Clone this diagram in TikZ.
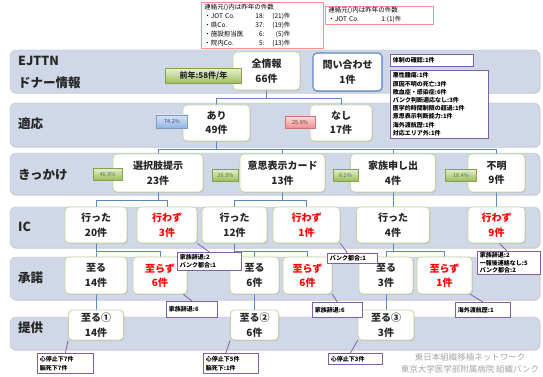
\documentclass[tikz,border=0pt]{standalone}
\usepackage{fontspec}
\setmainfont{Noto Sans CJK JP}
\usetikzlibrary{shadows,calc}
\pgfdeclarelayer{bg}
\pgfsetlayers{bg,main}
\definecolor{bandc}{HTML}{D0D8E8}
\definecolor{nodeb}{HTML}{C3D69B}
\definecolor{connc}{HTML}{5B87C5}
\definecolor{annoc}{HTML}{7F60A8}
\definecolor{redt}{HTML}{FF0000}
\definecolor{txt}{HTML}{262626}
\definecolor{redb}{HTML}{FF8F8F}
\definecolor{gtop}{HTML}{E6EFD2}
\definecolor{gbot}{HTML}{9CBD5A}
\definecolor{btop}{HTML}{D6E4F6}
\definecolor{bbot}{HTML}{92B5E4}
\definecolor{rtop}{HTML}{FBDCDC}
\definecolor{rbot}{HTML}{EE8A8A}
\definecolor{credc}{HTML}{A6A6A6}
\tikzset{
  band/.style={fill=bandc, draw=bandc!88!black, line width=0.3pt, rounded corners=6pt,
    drop shadow={shadow xshift=0.6pt, shadow yshift=-0.9pt, opacity=0.25}},
  blabel/.style={anchor=west, text=txt, font=\fontsize{12.5}{14}\selectfont\bfseries, inner sep=0pt},
  nbox/.style={draw=nodeb, fill=white, line width=0.8pt, rounded corners=4pt, align=center,
    inner sep=0pt, text=txt, font=\fontsize{10}{14.5}\selectfont\bfseries,
    drop shadow={shadow xshift=0.8pt, shadow yshift=-0.9pt, opacity=0.3}},
  redn/.style={nbox, text=redt},
  qbox/.style={nbox, draw=connc, line width=1.1pt},
  conn/.style={draw=connc, line width=0.5pt},
  anno/.style={draw=annoc, fill=white, line width=0.8pt, align=left, anchor=north west,
    inner xsep=2.5pt, inner ysep=0.5pt, text=black, font=\fontsize{6}{8.2}\selectfont\bfseries},
  leader/.style={draw=annoc, line width=0.8pt},
  pctG/.style={top color=gtop, bottom color=gbot, draw=gbot!85!black, line width=0.3pt,
    inner sep=0pt, text=black!60!green!40!gray, font=\fontsize{5.5}{6}\selectfont},
  pctB/.style={top color=btop, bottom color=bbot, draw=bbot!85!black, line width=0.3pt,
    inner sep=0pt, text=black!60!blue!50!gray, font=\fontsize{5.5}{6}\selectfont},
  pctR/.style={top color=rtop, bottom color=rbot, draw=rbot!85!black, line width=0.3pt,
    inner sep=0pt, text=black!60!red!60!gray, font=\fontsize{5.5}{6}\selectfont},
  redbox/.style={draw=redb, fill=white, line width=0.9pt, align=left, anchor=north west,
    inner xsep=3pt, inner ysep=1.5pt, text=black, font=\fontsize{6.5}{9}\selectfont},
  credit/.style={text=credc, font=\fontsize{8.5}{10}\selectfont, inner sep=0pt}
}
\begin{document}
\begin{tikzpicture}[x=1pt, y=-1pt]
\useasboundingbox (0,0) rectangle (543,377);

% main nodes
\node[nbox, minimum width=67pt, minimum height=38pt] (zen) at (266.5,71) {全情報\\66件};
\node[qbox, minimum width=69pt, minimum height=38pt] (toi) at (347.5,72) {問い合わせ\\1件};

\node[nbox, minimum width=67pt, minimum height=36pt] (ari) at (216.5,123) {あり\\49件};
\node[nbox, minimum width=62pt, minimum height=36pt] (nashi) at (341,123) {なし\\17件};

\node[nbox, minimum width=90pt, minimum height=38pt] (sen) at (158,173) {選択肢提示\\23件};
\node[nbox, minimum width=85pt, minimum height=38pt] (ishi) at (282.5,173) {意思表示カード\\13件};
\node[nbox, minimum width=85pt, minimum height=38pt] (kaz) at (393,173) {家族申し出\\4件};
\node[nbox, minimum width=57pt, minimum height=38pt] (fum) at (496.5,173) {不明\\9件};

\node[nbox, minimum width=62pt, minimum height=36pt] (ikA) at (96,225) {行った\\20件};
\node[redn, minimum width=60pt, minimum height=36pt] (ikB) at (167,225) {行わず\\3件};
\node[nbox, minimum width=65pt, minimum height=36pt] (ikC) at (234.5,225) {行った\\12件};
\node[redn, minimum width=67pt, minimum height=36pt] (ikD) at (306.5,225) {行わず\\1件};
\node[nbox, minimum width=73pt, minimum height=36pt] (ikE) at (393,225) {行った\\4件};
\node[redn, minimum width=57pt, minimum height=36pt] (ikF) at (496.5,225) {行わず\\9件};

\node[nbox, minimum width=62pt, minimum height=37pt] (shA) at (96,275.5) {至る\\14件};
\node[redn, minimum width=54pt, minimum height=37pt] (shB) at (160,275.5) {至らず\\6件};
\node[nbox, minimum width=49pt, minimum height=37pt] (shC) at (254.5,275.5) {至る\\6件};
\node[redn, minimum width=49pt, minimum height=37pt] (shD) at (307.5,275.5) {至らず\\6件};
\node[nbox, minimum width=54pt, minimum height=37pt] (shE) at (386,275.5) {至る\\3件};
\node[redn, minimum width=55pt, minimum height=37pt] (shF) at (444.5,275.5) {至らず\\1件};

\node[nbox, minimum width=55pt, minimum height=30pt] (tk1) at (96,325) {至る①\\14件};
\node[nbox, minimum width=48pt, minimum height=30pt] (tk2) at (254.5,325) {至る②\\6件};
\node[nbox, minimum width=56pt, minimum height=30pt] (tk3) at (386,325) {至る③\\3件};

\begin{pgfonlayer}{bg}
\fill[white] (0,0) rectangle (543,377);
% bands
\path[band] (10,50) rectangle (540,93);
\path[band] (10,103) rectangle (540,147);
\path[band] (10,153) rectangle (540,195);
\path[band] (10,207) rectangle (540,248);
\path[band] (10,257) rectangle (540,300);
\path[band] (10,317) rectangle (540,350);
% connectors
\draw[conn] (zen.south) -- ++(0,7.5) -| (ari.north);
\draw[conn] (zen.south) -- ++(0,7.5) -| (nashi.north);
\draw[conn] (ari.south) -- ++(0,8) -| (sen.north);
\draw[conn] (ari.south) -- ++(0,8) -| (ishi.north);
\draw[conn] (ari.south) -- ++(0,8) -| (kaz.north);
\draw[conn] (ari.south) -- ++(0,8) -| (fum.north);
\draw[conn] (sen.south) -- ++(0,7.5) -| (ikA.north);
\draw[conn] (sen.south) -- ++(0,7.5) -| (ikB.north);
\draw[conn] (ishi.south) -- ++(0,7.5) -| (ikC.north);
\draw[conn] (ishi.south) -- ++(0,7.5) -| (ikD.north);
\draw[conn] (kaz.south) -- (ikE.north);
\draw[conn] (fum.south) -- (ikF.north);
\draw[conn] (ikA.south) -- ++(0,7.5) -| (shA.north);
\draw[conn] (ikA.south) -- ++(0,7.5) -| (shB.north);
\draw[conn] (ikC.south) -- ++(0,7.5) -| (shC.north);
\draw[conn] (ikC.south) -- ++(0,7.5) -| (shD.north);
\draw[conn] (ikE.south) -- ++(0,7.5) -| (shE.north);
\draw[conn] (ikE.south) -- ++(0,7.5) -| (shF.north);
\draw[conn] (shA.south) -- (tk1.north);
\draw[conn] (shC.south) -- (tk2.north);
\draw[conn] (shE.south) -- (tk3.north);
\end{pgfonlayer}

% band labels
\node[blabel] (lEJ) at (18,61) {EJTTN};
\node[blabel] (lDN) at (18,83) {ドナー情報};
\node[blabel] (lTK) at (18,124) {適応};
\node[blabel] (lKK) at (18,175) {きっかけ};
\node[blabel] (lIC) at (18,227) {IC};
\node[blabel] (lSD) at (18,278) {承諾};
\node[blabel] (lTY) at (18,328) {提供};

% percentage tags
\node[pctG, minimum width=76pt, minimum height=15pt, font=\fontsize{8}{9}\selectfont\bfseries, text=txt] (prev) at (203.5,76) {前年:58件/年};
\node[pctB, minimum width=31pt, minimum height=13pt] (p742) at (172,121.5) {74.2\%};
\node[pctR, minimum width=30pt, minimum height=12pt] (p258) at (300,122.5) {25.8\%};
\node[pctG, minimum width=29pt, minimum height=11.5pt] (p469) at (107.5,174) {46.9\%};
\node[pctG, minimum width=26pt, minimum height=12pt] (p265) at (225.5,175) {26.5\%};
\node[pctG, minimum width=25pt, minimum height=12pt] (p82) at (345.5,175) {8.2\%};
\node[pctG, minimum width=31pt, minimum height=12pt] (p184) at (461,175) {18.4\%};

% annotations
\node[anno, text width=78pt, minimum height=12pt] (aTai) at (390,54) {体制の確認:1件};
\node[anno, text width=93pt, minimum height=68pt] (aList) at (390,70) {悪性腫瘍:1件\\原因不明の死亡:3件\\敗血症・感染症:6件\\バンク判断適応なし:3件\\医学的時間制限の超過:1件\\意思表示判断能力:1件\\海外渡航歴:1件\\対応エリア外:1件};
\node[anno, text width=59pt, minimum height=18pt] (aA) at (177,252) {家族辞退:2\\バンク都合:1};
\node[anno, text width=45pt, minimum height=10pt] (aB) at (327,253) {バンク都合:1};
\node[anno, text width=58pt, minimum height=23pt, font=\fontsize{6}{7.4}\selectfont\bfseries] (aC) at (477,251) {家族辞退:2\\一報後連絡なし:5\\バンク都合:2};
\node[anno, text width=46pt, minimum height=16pt] (aD) at (166,301) {家族辞退:6};
\node[anno, text width=45pt, minimum height=15pt] (aE) at (312,302) {家族辞退:6};
\node[anno, text width=50pt, minimum height=15pt] (aF) at (455,302) {海外渡航歴:1};
\node[anno, text width=51pt, minimum height=20pt, font=\fontsize{6}{9}\selectfont\bfseries] (aG) at (37,353) {心停止下7件\\脳死下7件};
\node[anno, text width=50pt, minimum height=20pt, font=\fontsize{6}{9}\selectfont\bfseries] (aH) at (203,353) {心停止下5件\\脳死下:1件};
\node[anno, text width=49pt, minimum height=11pt] (aI) at (328,353) {心停止下3件};

\draw[leader] (ikB.south east) -- (aA.north);
\draw[leader] (ikD.south east) -- ($(aB.north)+(-5,0)$);
\draw[leader] ($(ikF.south)+(3,0)$) -- ($(aC.north)+(-2,0)$);
\draw[leader] ($(shB.south east)+(-4,0)$) -- (aD.north);
\draw[leader] (shD.south east) -- (aE.north);
\draw[leader] ($(shF.south east)+(-2,0)$) -- (aF.north);
\draw[leader] (tk1.south west) -- (aG.north);
\draw[leader] (tk2.south west) -- ($(aH.north)+(-5,0)$);
\draw[leader] (tk3.south west) -- ($(aI.north)+(-5,0)$);

% red info boxes
\node[redbox, text width=116pt] (r1) at (201,2) {連絡元()内は昨年の件数\\
\makebox[44pt][l]{・JOT Co.}\makebox[16pt][r]{18:}\makebox[26pt][r]{(21)件}\\
\makebox[44pt][l]{・県Co.}\makebox[16pt][r]{37:}\makebox[26pt][r]{(19)件}\\
\makebox[44pt][l]{・施設担当医}\makebox[16pt][r]{6:}\makebox[26pt][r]{(5)件}\\
\makebox[44pt][l]{・院内Co.}\makebox[16pt][r]{5:}\makebox[26pt][r]{(13)件}};
\node[redbox, text width=102pt, inner ysep=1pt] (r2) at (325,6) {連絡元()内は昨年の件数\\
\makebox[53pt][l]{・JOT Co.}1:(1)件};

% credits
\node[credit] (cr1) at (470,357) {東日本組織移植ネットワーク};
\node[credit] (cr2) at (470,369) {東京大学医学部附属病院 組織バンク};
\end{tikzpicture}
\end{document}
